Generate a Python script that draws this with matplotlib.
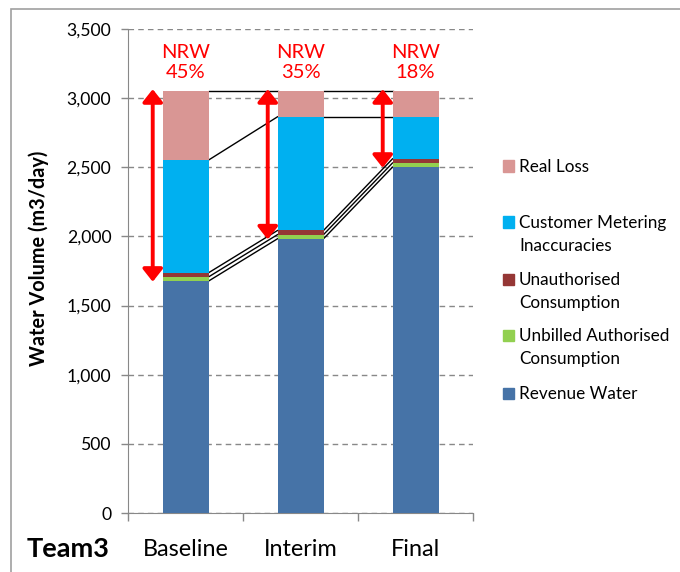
import matplotlib.pyplot as plt
from matplotlib.patches import Rectangle, FancyArrowPatch

plt.rcParams["font.family"] = ["Lato", "DejaVu Sans"]

# ---- data (m3/day) ----------------------------------------------------------
stages = ["Baseline", "Interim", "Final"]
revenue_water = [1677, 1983, 2501]
unbilled_auth = [30, 30, 30]
unauthorised = [30, 30, 30]
metering_inacc = [815, 822, 304]
real_loss = [498, 185, 185]
nrw_pct = ["45%", "35%", "18%"]

series = [
    ("Revenue Water", revenue_water, "#4673A7"),
    ("Unbilled Authorised\nConsumption", unbilled_auth, "#92D050"),
    ("Unauthorised\nConsumption", unauthorised, "#953735"),
    ("Customer Metering\nInaccuracies", metering_inacc, "#00B0F0"),
    ("Real Loss", real_loss, "#D99694"),
]

W, H = 680, 572
fig = plt.figure(figsize=(W / 100, H / 100), dpi=100)
ax = fig.add_axes([128 / W, 1 - 513 / H, 345 / W, 484 / H])

# outer chart border (runs off the right/bottom edge like the source)
fig.patches.append(Rectangle((11 / W, -0.1), 1.2, 1 - 9 / H + 0.1,
                             transform=fig.transFigure, fill=False,
                             ec="#A0A0A0", lw=1.2))

x = list(range(len(stages)))
bw = 0.4
bottom = [0, 0, 0]
levels = []
for label, vals, color in series:
    ax.bar(x, vals, bw, bottom=bottom, color=color, zorder=3)
    bottom = [b + v for b, v in zip(bottom, vals)]
    levels.append(list(bottom))

# series lines joining each segment boundary between neighbouring bars
for lev in levels:
    for i in range(len(x) - 1):
        ax.plot([x[i] + bw / 2, x[i + 1] - bw / 2], [lev[i], lev[i + 1]],
                color="black", lw=1.0, zorder=2)

# NRW arrows + labels
total = levels[-1]
for i in x:
    ax.add_patch(FancyArrowPatch((i - 0.285, total[i] + 15), (i - 0.285, revenue_water[i] - 5),
                                 arrowstyle="<|-|>,head_length=0.38,head_width=0.3",
                                 mutation_scale=20, color="red", lw=2.8, zorder=5,
                                 shrinkA=0, shrinkB=0))
    ax.text(i, 3255, f"NRW\n{nrw_pct[i]}", color="red", ha="center", va="center",
            fontsize=14.5, linespacing=1.2)

ax.set_xlim(-0.5, 2.5)
ax.set_ylim(0, 3500)
ax.set_yticks(range(0, 3501, 500))
ax.set_yticklabels([f"{v:,}" for v in range(0, 3501, 500)], fontsize=12.7)
ax.set_xticks(x)
ax.set_xticklabels(stages, fontsize=16.8)
ax.set_xticks([-0.5, 0.5, 1.5, 2.5], minor=True)
ax.tick_params(axis="x", which="major", length=0, pad=18.5)
ax.tick_params(axis="x", which="minor", length=6, color="#888888", width=1)
ax.tick_params(axis="y", length=5, color="#888888", width=1, pad=7)
for s in ("top", "right"):
    ax.spines[s].set_visible(False)
for s in ("left", "bottom"):
    ax.spines[s].set_color("#888888")
ax.yaxis.grid(True, color="#888888", ls=(0, (4, 3)), lw=1, zorder=0)
ax.set_axisbelow(True)

fig.text(39 / W, 1 - 258 / H, "Water Volume (m3/day)", rotation=90,
         ha="center", va="center", fontsize=14.3, fontweight="bold")
fig.text(27 / W, 1 - 549 / H, "Team3", ha="left", va="center",
         fontsize=19.5, fontweight="bold")

# legend (manual, to keep swatches beside the first text line)
legend_y = [166, 222, 279, 335, 393]
for (label, vals, color), yy in zip(reversed(series), legend_y):
    fig.patches.append(Rectangle((503 / W, 1 - (yy + 5.5) / H), 11 / W, 11 / H,
                                 transform=fig.transFigure, color=color))
    fig.text(519 / W, 1 - (yy - 7) / H, label, ha="left", va="top",
             fontsize=12.3, linespacing=1.55)

fig.savefig("out.png", dpi=100)
